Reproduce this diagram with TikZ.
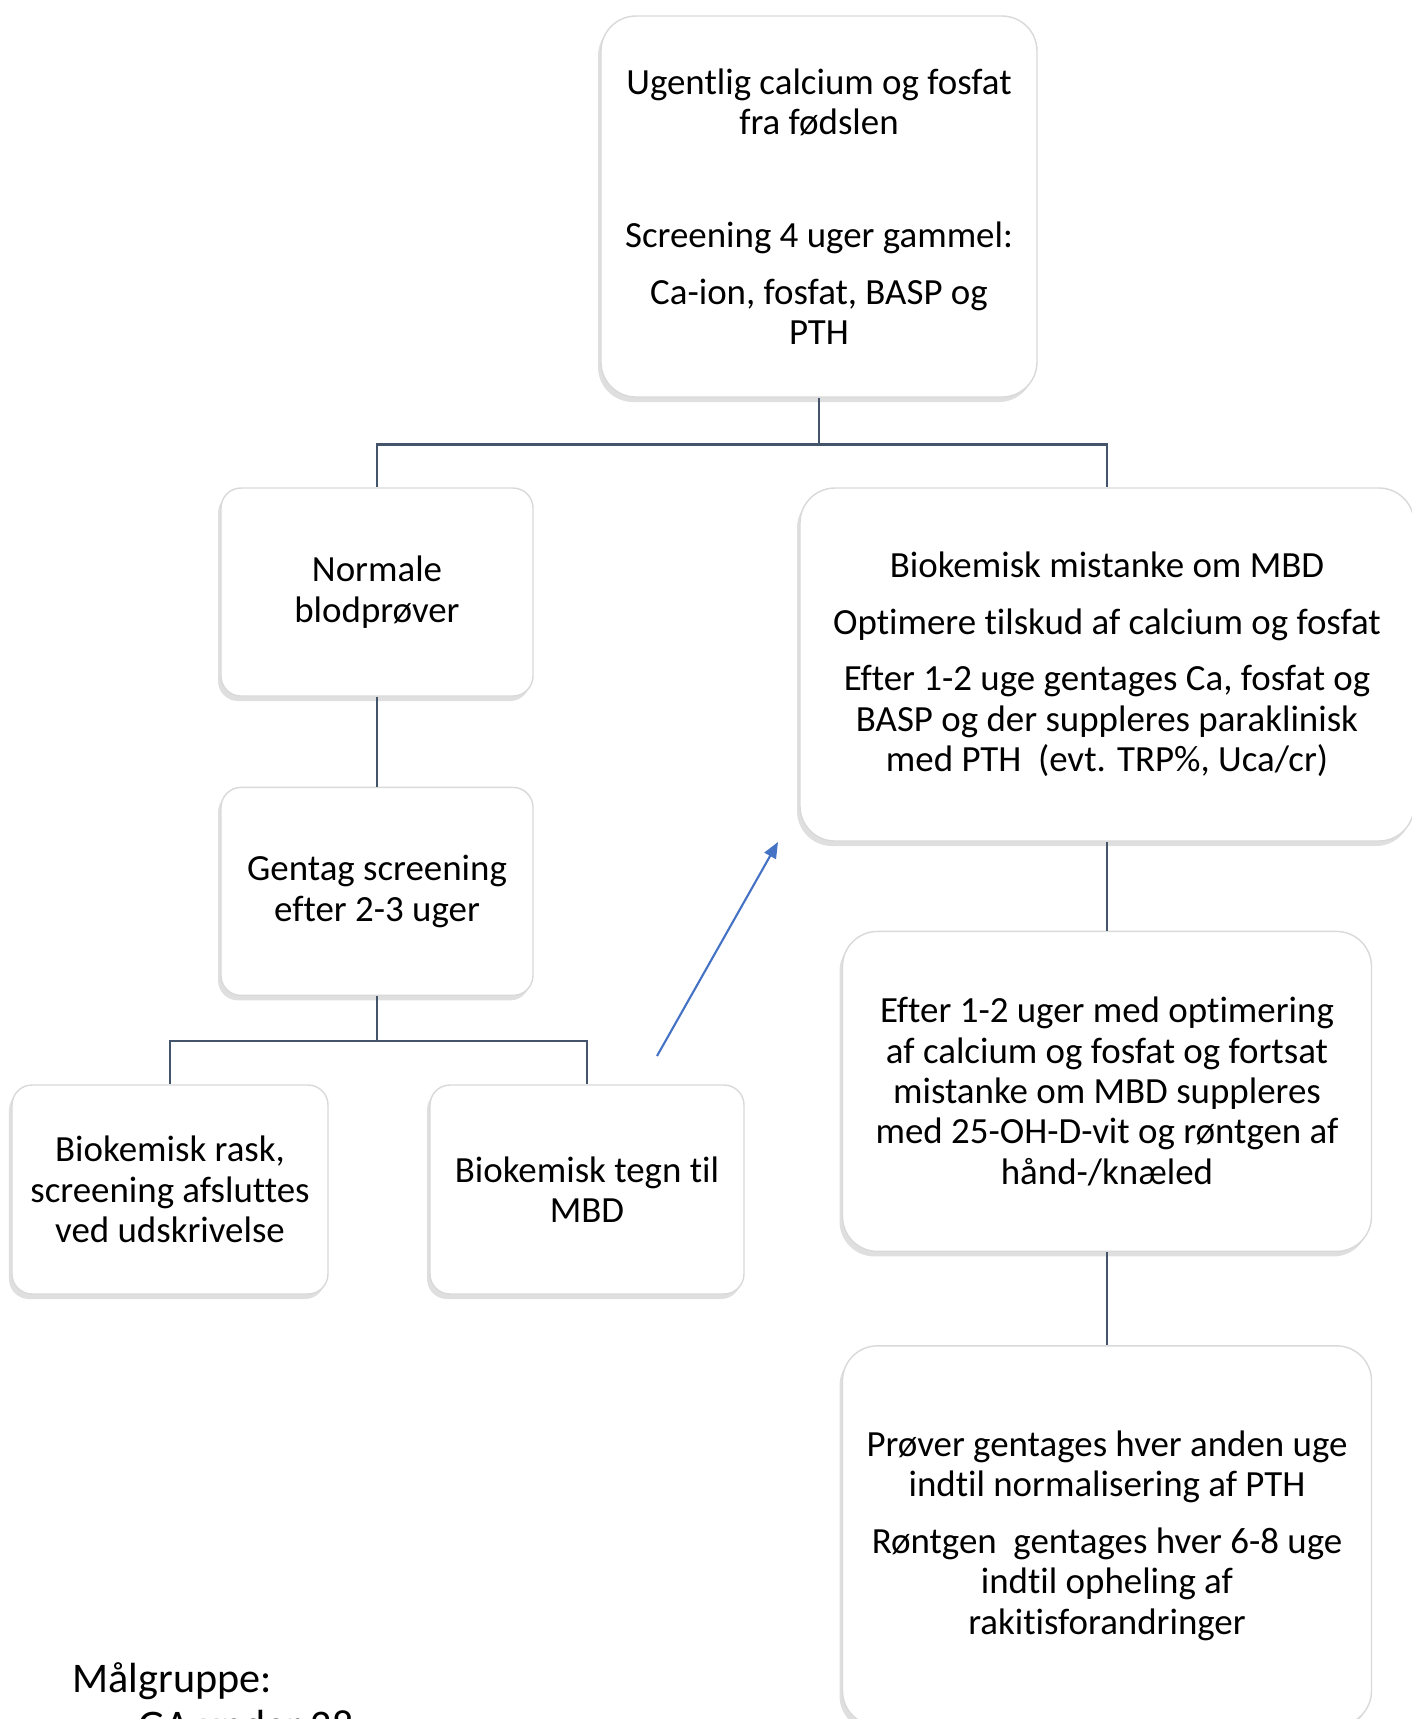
\documentclass[tikz,border=0pt]{standalone}
\usepackage{fontspec}
\setmainfont{Carlito}[Ligatures=NoCommon]
\usepackage{xcolor}
\usetikzlibrary{positioning}
\usetikzlibrary{shadows}
\usetikzlibrary{arrows.meta}

\definecolor{linkgray}{HTML}{44546A}
\definecolor{hintblue}{HTML}{4472C4}

\begin{document}
\begin{tikzpicture}[
box/.style={draw=black!15, fill=white, rounded corners=2mm, align=center,
drop shadow={shadow xshift=-0.3mm, shadow yshift=-0.5mm, opacity=0.25},
font=\fontsize{10.5}{11.5}\selectfont, inner sep=0pt},
    bigbox/.style={box, rounded corners=3.5mm},
    link/.style={draw=linkgray, line width=0.7pt},
    hint/.style={draw=hintblue, line width=0.6pt, -{Triangle[length=1.6mm,width=1.3mm]}}]
\useasboundingbox (0,0) rectangle (14.12,-17.19);

\node[bigbox, minimum width=4.36cm, minimum height=3.81cm] (start) at (8.19,-2.065)
  {Ugentlig calcium og fosfat\\fra fødslen\\[4.6pt]\mbox{}\\[4.6pt]Screening 4 uger gammel:\\[4.6pt]Ca-ion, fosfat, BASP og\\PTH};
\node[box, minimum width=3.12cm, minimum height=2.08cm] (normal) at (3.77,-5.92)
  {Normale\\blodprøver};
\node[bigbox, minimum width=6.14cm, minimum height=3.53cm] (mistanke) at (11.07,-6.645)
  {Biokemisk mistanke om MBD\\[4.6pt]Optimere tilskud af calcium og fosfat\\[4.6pt]Efter 1-2 uge gentages Ca, fosfat og\\BASP og der suppleres paraklinisk\\med PTH~ (evt. TRP\%, Uca/cr)};
\node[box, minimum width=3.12cm, minimum height=2.08cm] (gentag) [below=0.90 of normal]
  {Gentag screening\\efter 2-3 uger};
\node[box, minimum width=3.16cm, minimum height=2.09cm] (rask) at (1.70,-11.895)
  {Biokemisk rask,\\screening afsluttes\\ved udskrivelse};
\node[box, minimum width=3.14cm, minimum height=2.09cm] (tegn) at (5.87,-11.895)
  {Biokemisk tegn til\\MBD};
\node[bigbox, minimum width=5.29cm, minimum height=3.20cm] (efter) [below=0.89 of mistanke]
  {Efter 1-2 uger med optimering\\af calcium og fosfat og fortsat\\mistanke om MBD suppleres\\med 25-OH-D-vit og røntgen af\\hånd-/knæled};
\node[bigbox, minimum width=5.29cm, minimum height=3.80cm] (prover) [below=0.93 of efter]
  {Prøver gentages hver anden uge\\indtil normalisering af PTH\\[4.6pt]Røntgen~ gentages hver 6-8 uge\\indtil opheling af\\rakitisforandringer};

\node[anchor=base west, font=\fontsize{12}{14}\selectfont, inner sep=0pt] (maal) at (0.72,-16.92) {Målgruppe:};
\node[anchor=base west, font=\fontsize{12}{14}\selectfont, inner sep=0pt] (ga) at (1.38,-17.39) {GA under 28};

\node[coordinate] (split1) [below=0.47 of start] {};
\node[coordinate] (split2) [below=0.45 of gentag] {};
\coordinate (hintfrom) at (6.57,-10.56);
\coordinate (hintto) at (7.78,-8.42);

\draw[link] (start) -- (split1);
\draw[link] (split1) -| (normal);
\draw[link] (split1) -| (mistanke);
\draw[link] (normal) -- (gentag);
\draw[link] (gentag) -- (split2);
\draw[link] (split2) -| (rask);
\draw[link] (split2) -| (tegn);
\draw[link] (mistanke) -- (efter);
\draw[link] (efter) -- (prover);
\draw[hint] (hintfrom) -- (hintto);
\end{tikzpicture}
\end{document}
